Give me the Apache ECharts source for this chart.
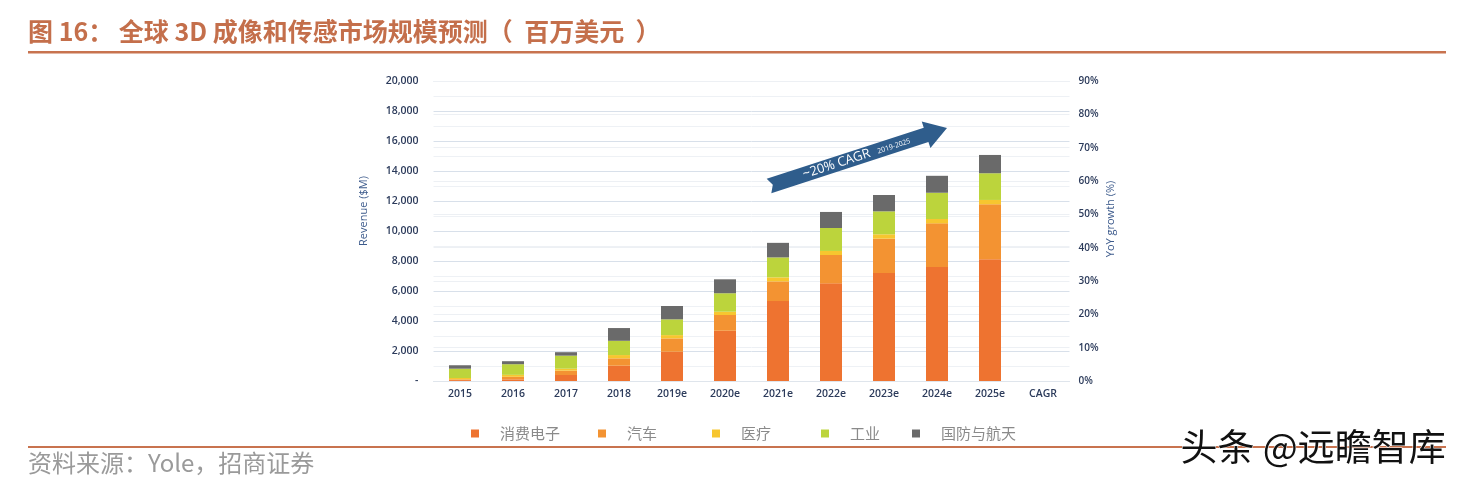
<!DOCTYPE html>
<html><head><meta charset="utf-8">
<script src="https://cdn.jsdelivr.net/npm/echarts@6/dist/echarts.min.js"></script>
<style>html,body{margin:0;padding:0;background:#fff}#c{width:1460px;height:484px}</style>
</head><body><div id="c"></div>
<script>
const categories = ['2015','2016','2017','2018','2019e','2020e','2021e','2022e','2023e','2024e','2025e','CAGR'];
const seriesNames = ['消费电子','汽车','医疗','工业','国防与航天'];
const consumer   = [60, 110, 400, 1020, 1950, 3350, 5330, 6510, 7200, 7600, 8110, null];
const auto       = [50, 170, 290, 490, 890, 1050, 1310, 1890, 2290, 2910, 3670, null];
const medical    = [90, 130, 130, 220, 220, 220, 270, 270, 290, 290, 290, null];
const industrial = [620, 710, 870, 950, 1050, 1230, 1330, 1530, 1530, 1750, 1780, null];
const defense    = [230, 200, 230, 850, 890, 930, 970, 1070, 1090, 1130, 1220, null];
const leftAxisMax = 20000, leftAxisStep = 2000;
const rightAxisMax = 90, rightAxisStep = 10;
const titleText = '图 16： 全球 3D 成像和传感市场规模预测（  百万美元  ）';
const sourceText = '资料来源：Yole，招商证券';
const watermarkText = '头条 @远瞻智库';
const arrowMain = '~20% CAGR', arrowSub = '2019-2025';

const colors = ['#ee7330','#f39332','#f7c62f','#bcd43c','#6a6a6a'];
const dataSets = [consumer, auto, medical, industrial, defense];
const legendX = [466, 593, 707, 816, 907];

const chart = echarts.init(document.getElementById('c'), null, {renderer:'canvas'});
const axisColor = '#2c3b5b';
const option = {
  animation: false,
  grid: {left: 433.5, right: 390.5, top: 81, bottom: 103},
  legend: seriesNames.map((n, i) => ({
    data: [n], left: legendX[i], top: 421, icon: 'rect', itemWidth: 8, itemHeight: 8,
    selectedMode: false,
    textStyle: {fontSize: 15, color: '#8a8a8a', fontFamily: 'Noto Sans CJK SC', padding: [0,0,0,16]}
  })),
  xAxis: {
    type: 'category', data: categories,
    axisLine: {show: true, lineStyle: {color: '#dfe5ec'}},
    axisTick: {show: false},
    axisLabel: {color: axisColor, fontSize: 10.5, fontWeight: 600, fontFamily: 'Open Sans', margin: 8}
  },
  yAxis: [{
    type: 'value', min: 0, max: leftAxisMax, interval: leftAxisStep,
    axisLine: {show: false}, axisTick: {show: false},
    axisLabel: {color: axisColor, fontSize: 10.5, fontWeight: 600, fontFamily: 'Open Sans', margin: 15,
      formatter: v => v === 0 ? '-' : v.toLocaleString('en-US')},
    splitLine: {lineStyle: {color: '#d8e0ea', width: 1}},
    minorTick: {show: false, splitNumber: 2},
    minorSplitLine: {show: true, lineStyle: {color: '#eef1f5'}}
  }, {
    type: 'value', min: 0, max: rightAxisMax, interval: rightAxisStep,
    axisLine: {show: false}, axisTick: {show: false},
    axisLabel: {color: axisColor, fontSize: 10, fontWeight: 600, fontFamily: 'Open Sans', margin: 9,
      formatter: '{value}%'},
    splitLine: {show: true, lineStyle: {color: '#edf0f4'}}
  }],
  series: dataSets.map((d, i) => ({
    name: seriesNames[i], type: 'bar', stack: 'total', data: d, barWidth: 22,
    itemStyle: {color: colors[i]}, yAxisIndex: 0
  }))
};
chart.setOption(option);

const tail = chart.convertToPixel({xAxisIndex:0, yAxisIndex:0}, ['2021e', 13000]);
const tip = chart.convertToPixel({xAxisIndex:0, yAxisIndex:0}, ['2024e', 16870]);
const tx = tail[0] - 9, ty = tail[1];
const hx = tip[0] + 10, hy = tip[1];
const L = Math.hypot(hx - tx, hy - ty);
const ang = Math.atan2(ty - hy, hx - tx);
const bw = 7.5, hw = 14, hl = 22;

chart.setOption({graphic: [
  {type:'text', left: 28, top: 19, style:{text: titleText, fill:'#c46f4b', font:'bold 25px "Noto Sans CJK SC"'}},
  {type:'rect', shape:{x:28, y:51, width:1418, height:2.5}, style:{fill:'#c8734f'}},
  {type:'rect', shape:{x:28, y:446, width:1418, height:2}, style:{fill:'#c8734f'}},
  {type:'text', left: 28, top: 451, style:{text: sourceText, fill:'#9a9a9a', font:'24px "Noto Sans CJK SC"'}},
  {type:'text', left: 1180, top: 428, style:{text: watermarkText, fill:'#111', font:'37px "Noto Sans CJK SC"', stroke:'#fff', lineWidth:1}},
  {type:'text', x: 364, y: 211, rotation: Math.PI/2, style:{text:'Revenue ($M)', fill:'#3d5b8c', font:'11px "Open Sans"', textAlign:'center', textVerticalAlign:'middle'}},
  {type:'text', x: 1111, y: 219, rotation: Math.PI/2, style:{text:'YoY growth (%)', fill:'#3d5b8c', font:'11px "Open Sans"', textAlign:'center', textVerticalAlign:'middle'}},
  {type:'group', x: tx, y: ty, rotation: ang, children: [
    {type:'polygon', shape:{points:[[0,-bw],[L-hl,-bw],[L-hl,-hw],[L,0],[L-hl,hw],[L-hl,bw],[0,bw],[4,0]]}, style:{fill:'#2f5d8c'}},
    {type:'text', x: 36, y: 0, style:{text: arrowMain, fill:'#fff', font:'13px "Open Sans"', textAlign:'left', textVerticalAlign:'middle'}},
    {type:'text', x: 114, y: 1, style:{text: arrowSub, fill:'#fff', font:'7px "Open Sans"', textAlign:'left', textVerticalAlign:'middle'}}
  ]}
]});
</script></body></html>
